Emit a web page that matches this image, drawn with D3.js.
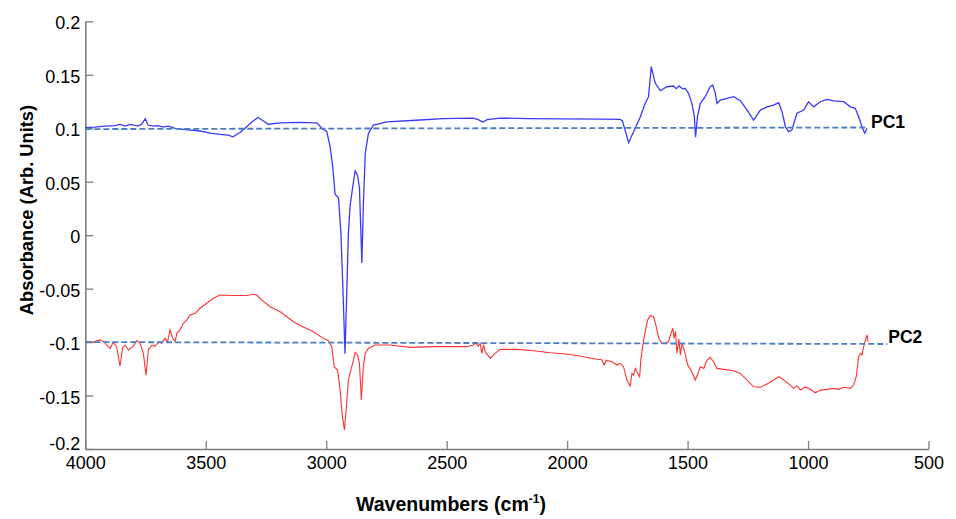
<!DOCTYPE html>
<html>
<head>
<meta charset="utf-8">
<script src="https://cdn.jsdelivr.net/npm/d3@7"></script>
<style>
  html, body { margin: 0; padding: 0; background: #fff; }
  svg { display: block; font-family: "Liberation Sans", Arial, sans-serif; }
</style>
</head>
<body>
<svg id="chart" width="956" height="519"></svg>
<script>
// ---- data ----
const xTicks = [4000, 3500, 3000, 2500, 2000, 1500, 1000, 500];
const yTicks = [0.2, 0.15, 0.1, 0.05, 0, -0.05, -0.1, -0.15, -0.2];
const yTickLabels = ["0.2", "0.15", "0.1", "0.05", "0", "-0.05", "-0.1", "-0.15", "-0.2"];
const seriesNames = ["PC1", "PC2"];

const pc1Wavenumbers = [4000,3960,3918,3877,3856,3835,3814,3781,3765,3751,3740,3719,3698,3677,3657,3627,3574,3524,3482,3441,3407,3387,3358,3337,3308,3283,3262,3241,3191,3109,3042,3034,3018,2998,2984,2973,2963,2949,2939,2931,2922,2914,2908,2901,2890,2880,2870,2862,2852,2846,2838,2825,2804,2748,2610,2515,2390,2369,2350,2332,2278,2167,2029,1863,1780,1771,1759,1745,1724,1696,1676,1662,1651,1634,1613,1586,1558,1547,1535,1522,1510,1496,1482,1472,1467,1459,1447,1427,1406,1396,1385,1378,1364,1336,1309,1281,1253,1226,1198,1170,1143,1122,1108,1094,1081,1067,1046,1018,998,977,949,921,894,852,824,804,790,776,765,755];
const pc1Values = [0.1005,0.101,0.102,0.1025,0.1035,0.102,0.1035,0.102,0.104,0.109,0.103,0.102,0.1025,0.101,0.102,0.0999,0.0985,0.0974,0.0955,0.0943,0.0935,0.092,0.096,0.100,0.106,0.110,0.107,0.1037,0.105,0.1055,0.105,0.104,0.100,0.097,0.083,0.064,0.038,0.035,0.002,-0.048,-0.111,-0.048,0.002,0.027,0.045,0.060,0.056,0.044,-0.026,0.027,0.0765,0.095,0.103,0.106,0.1077,0.109,0.1095,0.108,0.1058,0.108,0.1095,0.109,0.1088,0.1085,0.1083,0.107,0.098,0.0865,0.0968,0.1108,0.1233,0.1295,0.1575,0.142,0.1351,0.1388,0.1395,0.137,0.1395,0.137,0.1373,0.1327,0.1233,0.1108,0.0915,0.1108,0.1233,0.1295,0.1388,0.1404,0.1327,0.1233,0.1264,0.128,0.1295,0.1258,0.117,0.1077,0.117,0.12,0.1217,0.1239,0.1155,0.1014,0.0968,0.0983,0.114,0.117,0.1248,0.12,0.1248,0.127,0.1255,0.1248,0.12,0.1186,0.1108,0.1014,0.0953,0.100];

const pc2Wavenumbers = [4000,3967,3939,3922,3911,3897,3884,3870,3856,3845,3835,3821,3801,3787,3773,3759,3748,3738,3724,3711,3697,3683,3669,3659,3648,3637,3627,3620,3607,3593,3579,3565,3544,3524,3496,3468,3441,3385,3330,3302,3288,3267,3233,3191,3136,3108,3053,3012,2991,2977,2967,2953,2942,2933,2924,2914,2908,2898,2890,2880,2870,2862,2854,2846,2838,2825,2797,2735,2652,2555,2416,2389,2379,2369,2361,2354,2347,2340,2319,2299,2278,2208,2140,2070,2001,1932,1876,1856,1846,1838,1814,1793,1780,1766,1752,1738,1731,1724,1717,1710,1699,1694,1685,1676,1666,1655,1641,1630,1620,1606,1593,1579,1569,1561,1556,1550,1544,1536,1530,1523,1514,1503,1496,1482,1468,1454,1447,1433,1419,1406,1392,1378,1351,1309,1281,1253,1226,1198,1170,1143,1122,1101,1074,1060,1046,1032,1011,991,970,949,921,894,874,852,824,811,800,790,783,776,769,762,755,751];
const pc2Values = [-0.0997,-0.100,-0.098,-0.100,-0.1027,-0.106,-0.100,-0.1043,-0.1224,-0.105,-0.103,-0.1074,-0.104,-0.0985,-0.101,-0.1105,-0.131,-0.107,-0.103,-0.104,-0.100,-0.101,-0.0965,-0.100,-0.0887,-0.0965,-0.0997,-0.0918,-0.0887,-0.0825,-0.0794,-0.0747,-0.0731,-0.0684,-0.0637,-0.059,-0.056,-0.0565,-0.0565,-0.0553,-0.056,-0.0607,-0.0669,-0.0716,-0.081,-0.0845,-0.0903,-0.0965,-0.0987,-0.1043,-0.123,-0.1262,-0.1449,-0.1698,-0.1823,-0.1542,-0.1355,-0.1262,-0.1199,-0.1096,-0.1121,-0.1199,-0.1542,-0.123,-0.1105,-0.1059,-0.1028,-0.1028,-0.105,-0.1043,-0.1043,-0.1028,-0.1006,-0.104,-0.1011,-0.1105,-0.1025,-0.109,-0.1152,-0.1105,-0.1068,-0.1068,-0.1081,-0.110,-0.1112,-0.1137,-0.1161,-0.1165,-0.1215,-0.117,-0.1184,-0.1215,-0.1199,-0.123,-0.1355,-0.1411,-0.1293,-0.131,-0.1246,-0.128,-0.1324,-0.1168,-0.1012,-0.0903,-0.0794,-0.0753,-0.0763,-0.0856,-0.0965,-0.1012,-0.1012,-0.0997,-0.0918,-0.0871,-0.0965,-0.090,-0.1105,-0.097,-0.1121,-0.1012,-0.1074,-0.1184,-0.123,-0.1277,-0.1355,-0.1277,-0.123,-0.1246,-0.1168,-0.1143,-0.1184,-0.1246,-0.1255,-0.1268,-0.1293,-0.1355,-0.1418,-0.1423,-0.1392,-0.1355,-0.1324,-0.1355,-0.1402,-0.1433,-0.141,-0.1449,-0.142,-0.1442,-0.1474,-0.1449,-0.1442,-0.1433,-0.1442,-0.1423,-0.1433,-0.1402,-0.1324,-0.1137,-0.1105,-0.112,-0.1043,-0.098,-0.0934,-0.0997];

const pc1BaselineWn = [4000, 755];
const pc1BaselineVal = [0.0992, 0.1007];
const pc2BaselineWn = [4000, 671];
const pc2BaselineVal = [-0.1000, -0.1018];

// ---- drawing ----
const svg = d3.select("#chart");
const x = d3.scaleLinear().domain([4000, 500]).range([85.3, 928.5]);
const y = d3.scaleLinear().domain([-0.2, 0.2]).range([449, 21.3]);

const zip = (a, b) => a.map((v, i) => [v, b[i]]);
const line = d3.line().x(d => x(d[0])).y(d => y(d[1]));

// axes
const axisColor = "#7f7f7f";
const gx = svg.append("g").attr("transform", `translate(0,${y(-0.2)})`)
  .call(d3.axisBottom(x).tickValues(xTicks).tickFormat(d3.format("d")).tickSizeInner(-8).tickSizeOuter(0).tickPadding(7));
const gy = svg.append("g").attr("transform", `translate(${x(4000)},0)`)
  .call(d3.axisLeft(y).tickValues(yTicks).tickFormat((d, i) => yTickLabels[i]).tickSizeInner(-8).tickSizeOuter(0).tickPadding(5));
[gx, gy].forEach(g => {
  g.select(".domain").attr("stroke", axisColor).attr("stroke-width", 1.6);
  g.selectAll(".tick line").attr("stroke", axisColor).attr("stroke-width", 1.3);
  g.selectAll(".tick text").attr("fill", "#000").style("font-size", "18px").style("font-family", "'Liberation Sans', Arial, sans-serif");
});
gx.selectAll(".tick text").attr("dy", "0.72em");
gy.selectAll(".tick text").attr("dy", d => d === -0.2 ? "0.05em" : "0.42em");

// series
svg.append("path").datum(zip(pc2Wavenumbers, pc2Values))
  .attr("d", line).attr("fill", "none").attr("stroke", "#ff3333").attr("stroke-width", 1.1);
svg.append("path").datum(zip(pc1Wavenumbers, pc1Values))
  .attr("d", line).attr("fill", "none").attr("stroke", "#3a3aff").attr("stroke-width", 1.3);

// baselines
[[pc1BaselineWn, pc1BaselineVal], [pc2BaselineWn, pc2BaselineVal]].forEach(([w, v]) => {
  svg.append("path").datum(zip(w, v)).attr("d", line)
    .attr("fill", "none").attr("stroke", "#4a7fc1").attr("stroke-width", 1.8)
    .attr("stroke-dasharray", "6,3");
});

// series labels
svg.append("text").attr("x", x(pc1BaselineWn[1]) + 4).attr("y", y(pc1BaselineVal[1]) + 1)
  .attr("font-weight", "bold").attr("font-size", 17.5).text(seriesNames[0]);
svg.append("text").attr("x", x(pc2BaselineWn[1]) + 1).attr("y", y(pc2BaselineVal[1]) - 0.5)
  .attr("font-weight", "bold").attr("font-size", 17.5).text(seriesNames[1]);

// axis titles
svg.append("text").attr("transform", `translate(33,210) rotate(-90)`)
  .attr("text-anchor", "middle").attr("font-weight", "bold").attr("font-size", 18.3)
  .text("Absorbance (Arb. Units)");
const xt = svg.append("text").attr("x", 451).attr("y", 511)
  .attr("text-anchor", "middle").attr("font-weight", "bold").attr("font-size", 19.5);
xt.append("tspan").text("Wavenumbers (cm");
xt.append("tspan").attr("dy", -8).attr("font-size", 12).text("-1");
xt.append("tspan").attr("dy", 8).text(")");
</script>
</body>
</html>
